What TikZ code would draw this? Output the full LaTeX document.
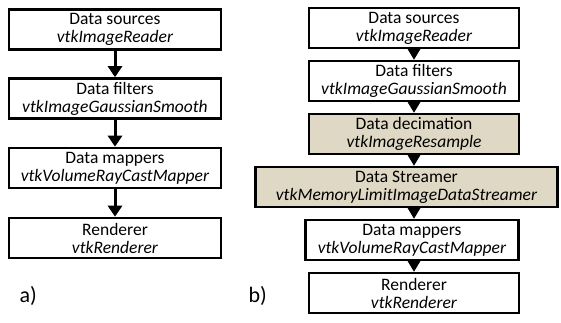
\documentclass[tikz,border=0pt]{standalone}
\usepackage{fontspec}
\setmainfont{Carlito}
\usetikzlibrary{arrows.meta}
\definecolor{stagefill}{RGB}{222,216,196}
\tikzset{
  stage/.style={draw=black, line width=2.6pt, fill=white, align=center,
    inner sep=0pt, minimum height=40pt,
    font=\fontsize{17.5}{18}\selectfont},
  extra/.style={stage, fill=stagefill},
  flow/.style={line width=3pt, -{Triangle[width=14pt,length=11pt]}, shorten <=-0.5pt},
  gapflow/.style={line width=1pt, -{Triangle[width=13pt,length=11pt]}},
  tag/.style={font=\fontsize{22}{24}\selectfont, anchor=west}
}
\newcommand{\stagetext}[2]{#1\\\textit{#2}}
\begin{document}
\begin{tikzpicture}[x=1pt,y=-1pt]
  \fill[white] (0,0) rectangle (561,322);
  \useasboundingbox (0,0) rectangle (561,322);

  % a) basic VTK pipeline
  \node[stage, minimum width=212pt] (a1) at (115,29.5) {\stagetext{Data sources}{vtkImageReader}};
  \node[stage, minimum width=212pt] (a2) at (115,98.5) {\stagetext{Data filters}{vtkImageGaussianSmooth}};
  \node[stage, minimum width=212pt] (a3) at (115,168) {\stagetext{Data mappers}{vtkVolumeRayCastMapper}};
  \node[stage, minimum width=212pt] (a4) at (115,238) {\stagetext{Renderer}{vtkRenderer}};
  \draw[flow] (a1.south) -- (a2.north);
  \draw[flow] (a2.south) -- (a3.north);
  \draw[flow] (a3.south) -- (a4.north);
  \node[tag] (la) at (16,296) {a)};

  % b) pipeline with decimation and streaming
  \node[stage, minimum width=210pt] (b1) at (414,28) {\stagetext{Data sources}{vtkImageReader}};
  \node[stage, minimum width=210pt] (b2) at (414,81) {\stagetext{Data filters}{vtkImageGaussianSmooth}};
  \node[extra, minimum width=210pt] (b3) at (414,134) {\stagetext{Data decimation}{vtkImageResample}};
  \node[extra, minimum width=302pt] (b4) at (406.5,187) {\stagetext{Data Streamer}{vtkMemoryLimitImageDataStreamer}};
  \node[stage, minimum width=213pt] (b5) at (412,240) {\stagetext{Data mappers}{vtkVolumeRayCastMapper}};
  \node[stage, minimum width=210pt] (b6) at (414,293) {\stagetext{Renderer}{vtkRenderer}};
  \draw[gapflow] (b1.south -| b2.north) -- (b2.north);
  \draw[gapflow] (b2.south) -- (b3.north);
  \draw[gapflow] (b3.south) -- (b3.south |- b4.north);
  \draw[gapflow] (b3.south |- b4.south) -- (b3.south |- b5.north);
  \draw[gapflow] (b3.south |- b5.south) -- (b3.south |- b6.north);
  \node[tag] (lb) at (245,296) {b)};
\end{tikzpicture}
\end{document}
